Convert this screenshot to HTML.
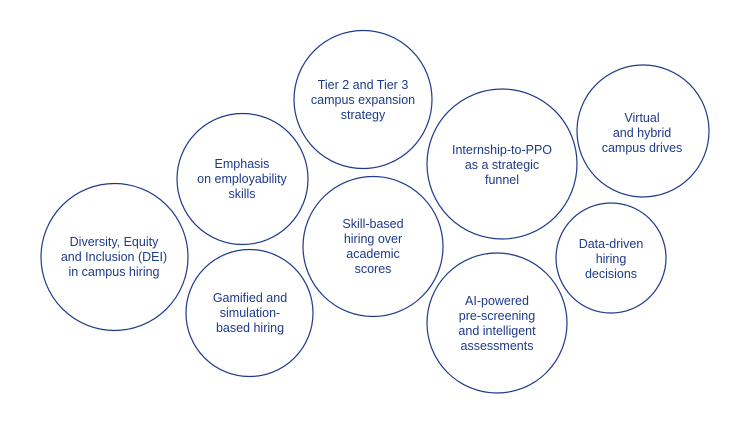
<!DOCTYPE html>
<html><head><meta charset="utf-8"><style>
html,body{margin:0;padding:0;background:#fff;}
svg{display:block;}
text{font-family:"Liberation Sans",sans-serif;font-size:12.5px;fill:#1e3a8a;text-anchor:middle;}
circle{fill:none;stroke:#1e3a8a;stroke-width:1.2;}
</style></head><body>
<svg width="750" height="424" viewBox="0 0 750 424">
<circle cx="114.5" cy="257" r="73.5"/>
<text x="114" y="246">Diversity, Equity</text>
<text x="114" y="261">and Inclusion (DEI)</text>
<text x="114" y="276">in campus hiring</text>

<circle cx="242.5" cy="179" r="65.5"/>
<text x="242" y="168">Emphasis</text>
<text x="242" y="183">on employability</text>
<text x="242" y="198">skills</text>

<circle cx="249.5" cy="313" r="63.5"/>
<text x="250" y="302">Gamified and</text>
<text x="250" y="317">simulation-</text>
<text x="250" y="332">based hiring</text>

<circle cx="363" cy="99.5" r="69"/>
<text x="363" y="89">Tier 2 and Tier 3</text>
<text x="363" y="104">campus expansion</text>
<text x="363" y="119">strategy</text>

<circle cx="373" cy="246.5" r="70"/>
<text x="373" y="228">Skill-based</text>
<text x="373" y="243">hiring over</text>
<text x="373" y="258">academic</text>
<text x="373" y="273">scores</text>

<circle cx="502" cy="164" r="75"/>
<text x="502" y="154">Internship-to-PPO</text>
<text x="502" y="169">as a strategic</text>
<text x="502" y="184">funnel</text>

<circle cx="497" cy="323" r="70"/>
<text x="497" y="305">AI-powered</text>
<text x="497" y="320">pre-screening</text>
<text x="497" y="335">and intelligent</text>
<text x="497" y="350">assessments</text>

<circle cx="643" cy="131" r="66"/>
<text x="642" y="122">Virtual</text>
<text x="642" y="137">and hybrid</text>
<text x="642" y="152">campus drives</text>

<circle cx="611" cy="258" r="55"/>
<text x="611" y="248">Data-driven</text>
<text x="611" y="263">hiring</text>
<text x="611" y="278">decisions</text>
</svg>
</body></html>
